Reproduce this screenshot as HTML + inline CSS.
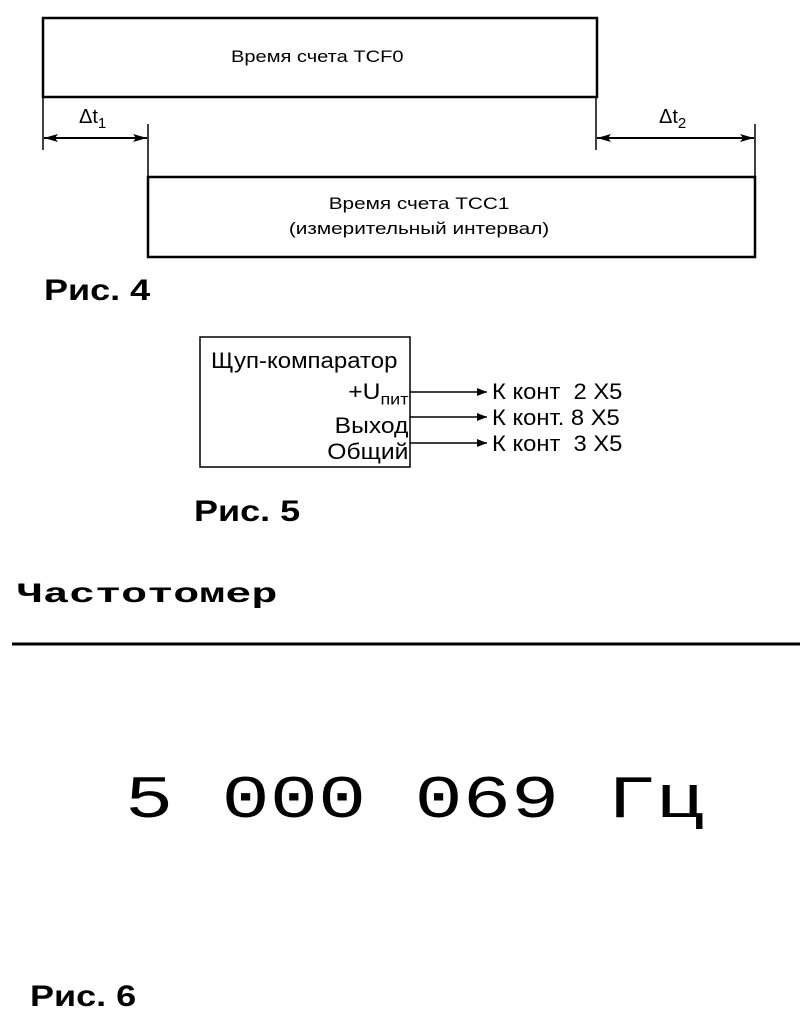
<!DOCTYPE html>
<html><head><meta charset="utf-8"><style>
body{margin:0;background:#fff;}
.w{position:relative;width:800px;height:1026px;overflow:hidden;font-family:"Liberation Sans",sans-serif;color:#000}
.t{position:absolute;white-space:nowrap;transform-origin:0 50%}
.r{font-size:30px;font-weight:bold;transform:scaleX(1.2);line-height:30px}
</style></head><body><div class="w">
<svg width="800" height="1026" style="position:absolute;left:0;top:0">
<defs><marker id="a" markerWidth="10" markerHeight="8" refX="10" refY="4" orient="auto-start-reverse" markerUnits="userSpaceOnUse"><path d="M0,0 L10,4 L0,8 Z" fill="#000"/></marker>
<marker id="b" markerWidth="14" markerHeight="8" refX="14" refY="4" orient="auto-start-reverse" markerUnits="userSpaceOnUse"><path d="M0,0 L14,4 L0,8 L3,4Z" fill="#000"/></marker></defs>
<g stroke="#000" fill="none">
<rect x="43" y="18" width="554" height="79" stroke-width="2.5"/>
<rect x="148" y="177" width="607" height="80" stroke-width="2.5"/>
<line x1="43" y1="97" x2="43" y2="150" stroke-width="1.5"/>
<line x1="148" y1="124" x2="148" y2="177" stroke-width="1.5"/>
<line x1="596" y1="97" x2="596" y2="150" stroke-width="1.5"/>
<line x1="755" y1="124" x2="755" y2="177" stroke-width="1.5"/>
<line x1="44" y1="138" x2="147" y2="138" stroke-width="2" marker-start="url(#b)" marker-end="url(#b)"/>
<line x1="597" y1="138" x2="754" y2="138" stroke-width="2" marker-start="url(#b)" marker-end="url(#b)"/>
<rect x="200" y="337" width="210" height="130" stroke-width="1.5"/>
<line x1="410" y1="392" x2="487" y2="392" stroke-width="1.5" marker-end="url(#a)"/>
<line x1="410" y1="417" x2="487" y2="417" stroke-width="1.5" marker-end="url(#a)"/>
<line x1="410" y1="443" x2="487" y2="443" stroke-width="1.5" marker-end="url(#a)"/>
<line x1="12" y1="644" x2="800" y2="644" stroke-width="3"/>
</g></svg>
<div class="t" style="left:231px;top:45px;font-size:17px;line-height:24px;transform:scaleX(1.18)">Время счета TCF0</div>
<div class="t" style="left:79px;top:106px;font-size:20px">Δt<sub style="font-size:15px">1</sub></div>
<div class="t" style="left:659px;top:106px;font-size:20px">Δt<sub style="font-size:15px">2</sub></div>
<div class="t" style="left:148px;width:607px;text-align:center;top:191px;font-size:17px;line-height:25px;transform:scaleX(1.22);transform-origin:451px 50%">Время счета TCC1<br>(измерительный интервал)</div>
<div class="t r" style="left:44px;top:276px">Рис. 4</div>
<div class="t" style="left:211px;top:348px;font-size:22px;line-height:26px;transform:scaleX(1.09)">Щуп-компаратор</div>
<div class="t" style="right:392px;top:379px;font-size:22px;text-align:right;line-height:26px;transform:scaleX(1.12);transform-origin:100% 50%">+U<sub style="font-size:16px">пит</sub><br>Выход<br>Общий</div>
<div class="t" style="left:492px;top:379px;font-size:22px;line-height:26px;transform:scaleX(1.08)">К конт&nbsp; 2 X5<br>К конт. 8 X5<br>К конт&nbsp; 3 X5</div>
<div class="t r" style="left:194px;top:497px">Рис. 5</div>
<div class="t" style="left:17px;top:582px;font-size:28px;line-height:28px;font-weight:bold;font-family:'Liberation Mono',monospace;transform:scaleX(1.55)">Частотомер</div>
<div class="t" style="left:125px;top:772px;font-size:60px;line-height:60px;font-family:'Liberation Mono',monospace;transform:scaleX(1.34)">5 000 069 Гц</div>
<div class="t r" style="left:30px;top:982px">Рис. 6</div>
</div></body></html>
